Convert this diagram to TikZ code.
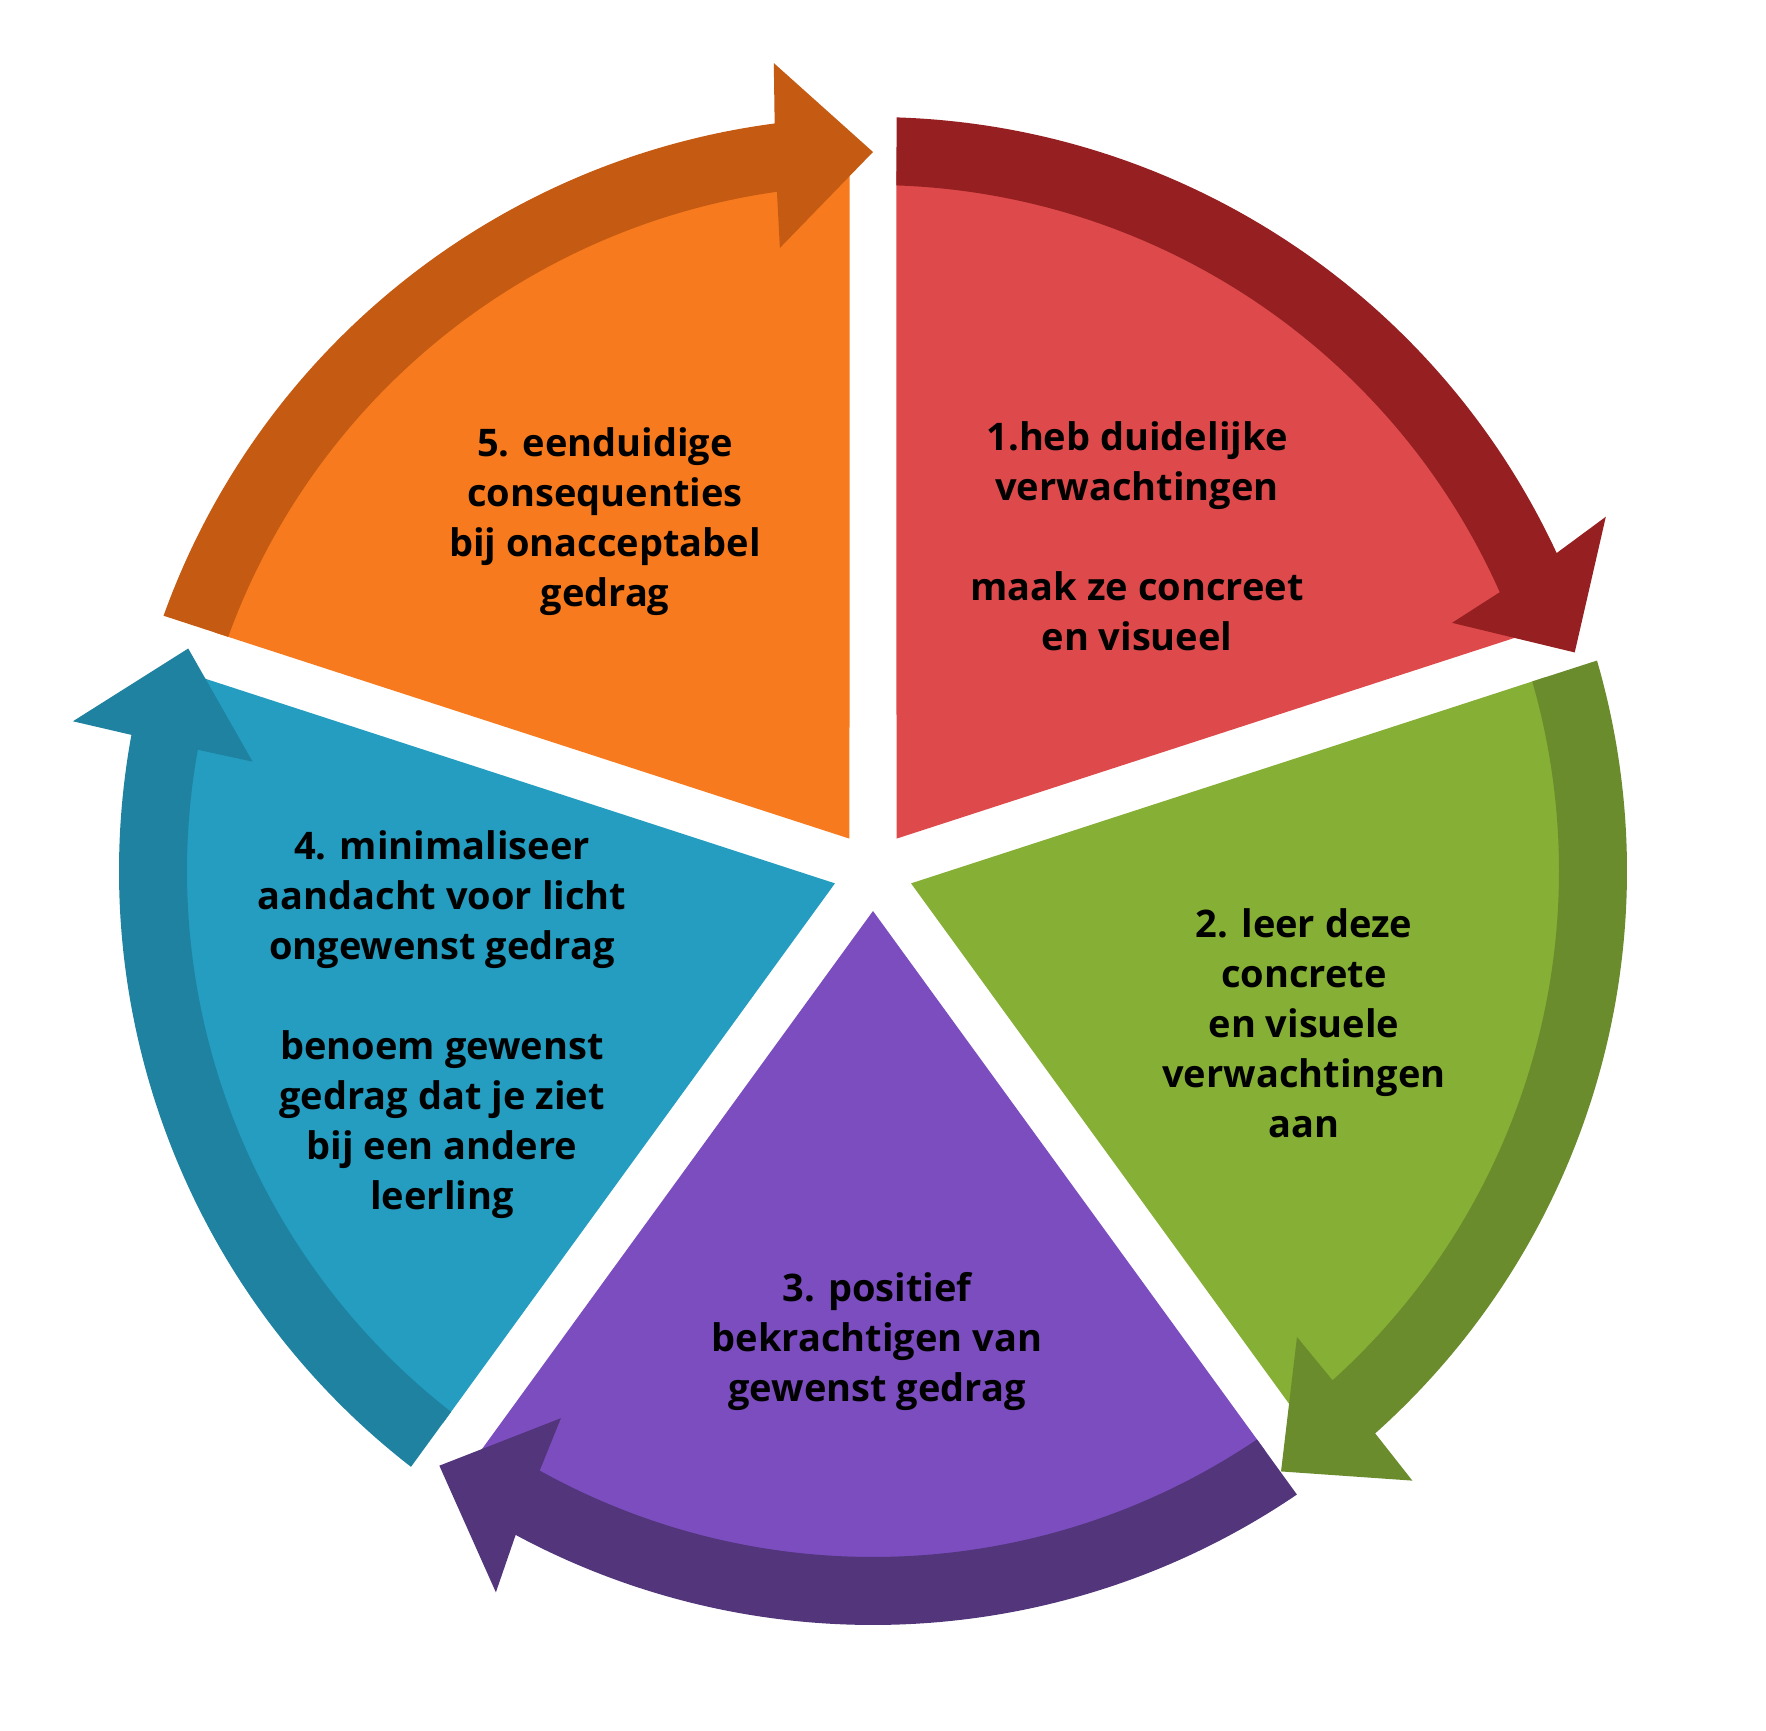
\documentclass[tikz,border=0pt]{standalone}
\usepackage{fontspec}
\setmainfont{Open Sans}
\definecolor{redL}{RGB}{222,74,75}
\definecolor{redD}{RGB}{150,31,33}
\definecolor{grnL}{RGB}{134,175,54}
\definecolor{grnD}{RGB}{106,140,44}
\definecolor{purL}{RGB}{123,77,191}
\definecolor{purD}{RGB}{82,53,122}
\definecolor{bluL}{RGB}{36,157,192}
\definecolor{bluD}{RGB}{30,130,160}
\definecolor{orgL}{RGB}{247,123,30}
\definecolor{orgD}{RGB}{197,91,18}
\tikzset{every picture/.style = {x=1pt, y=1pt}}
\tikzset{lbl/.style = {font=\fontsize{38}{50}\selectfont\bfseries, align=center, text=black, inner sep=0}}

\begin{document}
\begin{tikzpicture}
  \useasboundingbox (-873, -859) rectangle (893, 871);
  % sectors
  \foreach \s/\col in {90/redL, 18/grnL, -54/purL, -126/bluL, 162/orgL}{
    \fill[\col] ({\s-36}:40pt) -- ({\s-1.92}:700pt)
      arc[start angle={\s-1.92}, end angle={\s-70.08}, radius=700pt] -- cycle;
  }
  % arrows (start / colour / tip offset / tip radius / inner and outer back corner)
  \foreach \s/\col/\tip/\rt/\bi/\bo in {90/redD/0.7/735/5.2/7.8, 18/grnD/1.8/726/6.3/5.5,
      -54/purD/0.1/736/6.3/8.4, -126/bluD/0/720/8.0/7.4, 162/orgD/0/719/8.5/7.0}{
    \pgfmathsetmacro\e{\s-72}
    \pgfmathsetmacro\ei{\e+\bi+0.3*(\bo-\bi)}
    \pgfmathsetmacro\eo{\e+\bi+0.67*(\bo-\bi)}
    \fill[\col] ({\s-1.96}:686pt) -- ({\s-1.79}:754pt)
      arc[start angle={\s-1.79}, end angle=\eo, radius=754pt]
      -- ({\e+\bo}:814pt) -- ({\e-\tip}:\rt pt) -- ({\e+\bi}:630pt)
      -- (\ei:686pt)
      arc[start angle=\ei, end angle={\s-1.96}, radius=686pt] -- cycle;
  }
  % labels
  \node[lbl] (t1) at (264, 335) {1.heb duidelijke\\verwachtingen\\[50pt]maak ze concreet\\en visueel};
  \node[lbl] (t2) at (431, -152) {2. leer deze\\concrete\\en visuele\\verwachtingen\\aan};
  \node[lbl] (t3) at (4, -471) {3. positief\\bekrachtigen van\\gewenst gedrag};
  \node[lbl] (t4) at (-431, -154) {4. minimaliseer\\aandacht voor licht\\ongewenst gedrag\\[50pt]benoem gewenst\\gedrag dat je ziet\\bij een andere\\leerling};
  \node[lbl] (t5) at (-268, 349) {5. eenduidige\\consequenties\\bij onacceptabel\\gedrag};
\end{tikzpicture}
\end{document}
